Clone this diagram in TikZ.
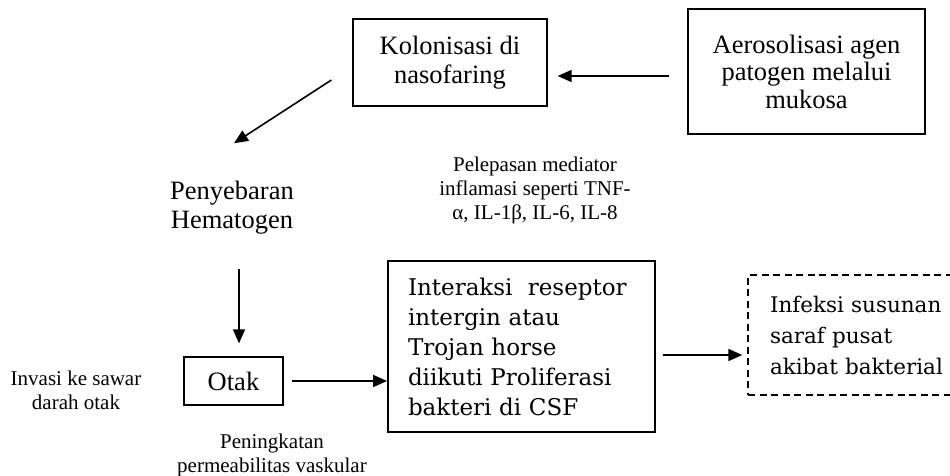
\documentclass[tikz,border=0pt]{standalone}
\usepackage{fontspec}
\setmainfont{Liberation Serif}
\newfontfamily\boxfont{DejaVu Serif}
\usetikzlibrary{arrows.meta,positioning}
\tikzset{
  flow box/.style={
    draw,
    line width=1.2pt,
    align=center,
    inner sep=0pt,
    font=\fontsize{26.5}{29}\selectfont,
  },
  big box/.style={
    draw,
    line width=1.8pt,
    align=left,
    inner xsep=20pt,
    inner ysep=0pt,
    font=\boxfont\fontsize{23}{30}\selectfont,
  },
  plain text/.style={
    align=center,
    inner sep=0pt,
    font=\fontsize{26.5}{29}\selectfont,
  },
  small text/.style={
    align=center,
    inner sep=0pt,
    font=\fontsize{21}{24}\selectfont,
  },
  flow arrow/.style={
    line width=1.6pt,
    -{Triangle[length=14pt,width=12pt]},
  }
}

\begin{document}
\begin{tikzpicture}[x=1pt,y=-1pt]
        \useasboundingbox (0,0) rectangle (950,476);
        \clip (0,0) rectangle (950,476);

        \node [flow box, minimum width=194pt, minimum height=87pt] (kolon) at (450,62.5) {Kolonisasi di\\nasofaring};
        \node [flow box, minimum width=237pt, minimum height=125pt, font=\fontsize{26.5}{27.5}\selectfont] (aero) at (806.5,71.5) {Aerosolisasi agen\\patogen melalui\\mukosa};
        \node [plain text] (hemato) at (232,208) {Penyebaran\\Hematogen};
        \node [small text] (mediator) at (535,190) {Pelepasan mediator\\inflamasi seperti TNF-\\α, IL-1β, IL-6, IL-8};
        \node [flow box, minimum width=99pt, minimum height=48pt] (otak) at (233.5,381) {Otak};
        \node [small text] (invasi) at (76,390) {Invasi ke sawar\\darah otak};
        \node [small text] (permea) at (272,455) {Peningkatan\\permeabilitas vaskular};
        \node [big box, text width=227pt, minimum height=171pt] (interaksi) at (521.5,346.5) {Interaksi~ reseptor\\intergin atau\\Trojan horse\\diikuti Proliferasi\\bakteri di CSF};
        \node [big box, dash pattern=on 7pt off 4.5pt, line width=1.3pt, inner xsep=22pt, text width=188pt, minimum height=120pt, font=\boxfont\fontsize{21.5}{31}\selectfont] (infeksi) at (864,335) {Infeksi susunan\\saraf pusat\\akibat bakterial};

        \draw [flow arrow] ([xshift=-18pt,yshift=-4.5pt]aero.west) -- ([xshift=10pt,yshift=-13.5pt]kolon.east);
        \draw [flow arrow] ([xshift=-21pt,yshift=-17.5pt]kolon.west) -- ([xshift=2pt,yshift=38pt]hemato.north);
        \draw [flow arrow] ([xshift=5.5pt,yshift=87pt]otak.north) -- ([xshift=5.5pt,yshift=13pt]otak.north);
        \draw [flow arrow] ([xshift=8pt]otak.east) -- (otak.east -| interaksi.west);
        \draw [flow arrow] ([xshift=7pt,yshift=-8.5pt]interaksi.east) -- ([xshift=-5pt,yshift=-20pt]infeksi.west);
\end{tikzpicture}
\end{document}
